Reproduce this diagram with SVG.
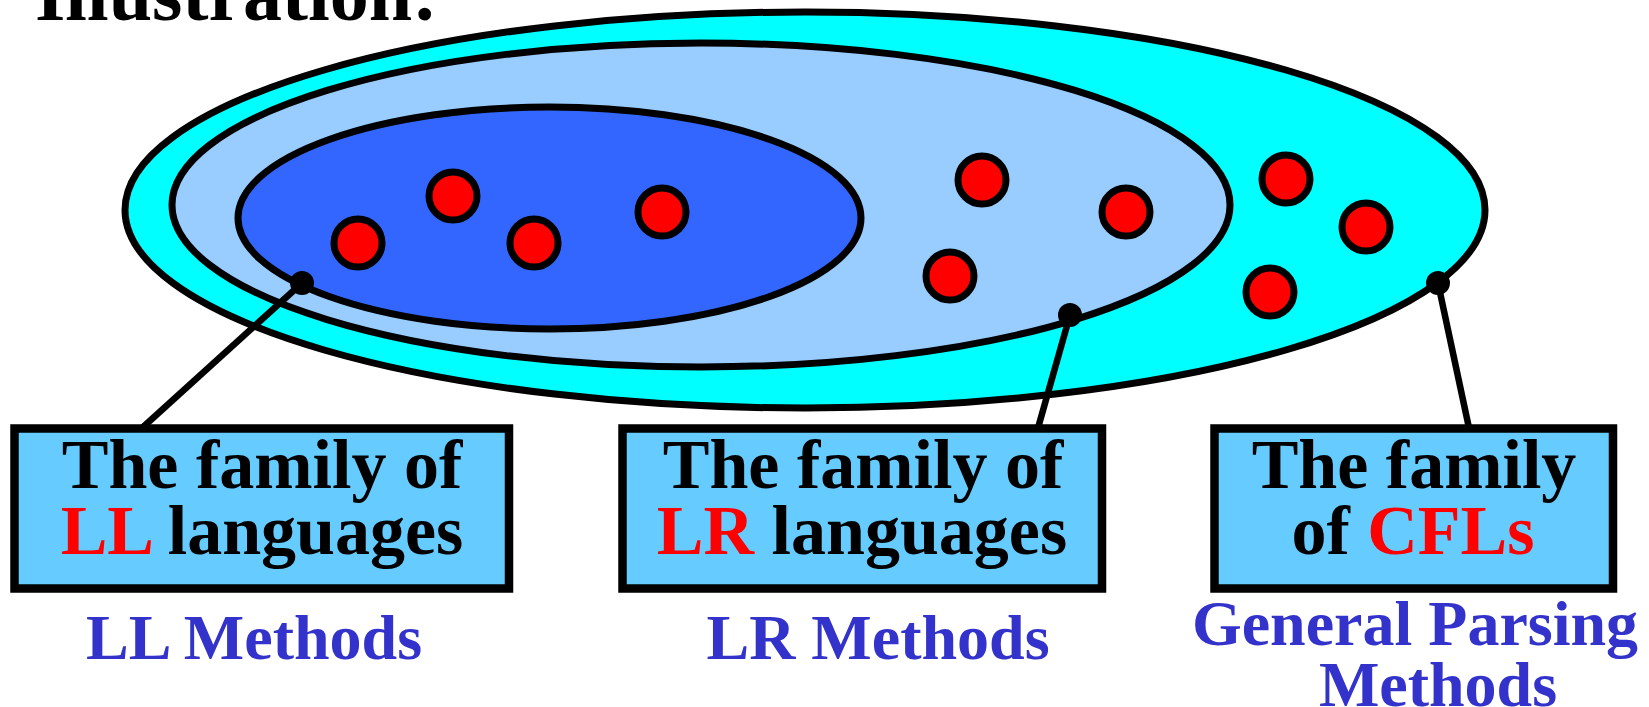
<svg xmlns="http://www.w3.org/2000/svg" width="1649" height="707" viewBox="0 0 1649 707">
<style>
.e{stroke:#000;stroke-width:7}
.dot{fill:#FF0000;stroke:#000;stroke-width:7}
.box{fill:#66CCFF;stroke:#000;stroke-width:8.5}
.t{font-family:"Liberation Serif","Times New Roman",serif;font-weight:bold;font-size:70px;fill:#000;text-anchor:middle}
.r{fill:#FF0000}
.m{font-family:"Liberation Serif","Times New Roman",serif;font-weight:bold;font-size:64px;fill:#3333CC;text-anchor:middle}
.c{stroke:#000;stroke-width:6.5;fill:none}
.cd{fill:#000}
</style>
<rect width="1649" height="707" fill="#fff"/>
<text x="35" y="20" style="font-family:'Liberation Serif','Times New Roman',serif;font-weight:bold;font-size:78px;fill:#000">Illustration:</text>
<g id="cfl-set">
<ellipse class="e" cx="805" cy="210" rx="680" ry="198" fill="#00FFFF"/>
</g>
<g id="lr-set">
<ellipse class="e" cx="701" cy="205" rx="529" ry="162" fill="#99CCFF"/>
</g>
<g id="ll-set">
<ellipse class="e" cx="549.5" cy="218" rx="311.5" ry="111" fill="#3366FF"/>
</g>
<g id="languages">
<circle class="dot" cx="358" cy="243" r="24"/>
<circle class="dot" cx="453" cy="196" r="24"/>
<circle class="dot" cx="534" cy="243" r="24"/>
<circle class="dot" cx="662" cy="212" r="24"/>
<circle class="dot" cx="982" cy="180" r="24"/>
<circle class="dot" cx="1126" cy="212" r="24"/>
<circle class="dot" cx="950" cy="276" r="24"/>
<circle class="dot" cx="1286" cy="179" r="24"/>
<circle class="dot" cx="1366" cy="227" r="24"/>
<circle class="dot" cx="1270" cy="292" r="24"/>
</g>
<g id="connectors">
<line class="c" x1="302" y1="283" x2="142" y2="428"/>
<line class="c" x1="1070" y1="315" x2="1038" y2="428"/>
<line class="c" x1="1438" y1="283" x2="1469" y2="428"/>
<circle class="cd" cx="302" cy="283" r="12"/>
<circle class="cd" cx="1070" cy="315" r="12"/>
<circle class="cd" cx="1438" cy="283" r="12"/>
</g>
<g id="box-ll">
<rect class="box" x="14.5" y="428.5" width="494.5" height="160"/>
<text class="t" x="262" y="488">The family of</text>
<text class="t" x="262" y="554"><tspan class="r">LL</tspan> languages</text>
<text class="m" x="254" y="659">LL Methods</text>
</g>
<g id="box-lr">
<rect class="box" x="622.5" y="428.5" width="479.5" height="160"/>
<text class="t" x="863" y="488">The family of</text>
<text class="t" x="862" y="554"><tspan class="r">LR</tspan> languages</text>
<text class="m" x="878" y="659">LR Methods</text>
</g>
<g id="box-cfl">
<rect class="box" x="1214.5" y="428.5" width="398.5" height="160"/>
<text class="t" x="1414" y="488">The family</text>
<text class="t" x="1413" y="554">of <tspan class="r">CFLs</tspan></text>
<text class="m" x="1415" y="645">General Parsing</text>
<text class="m" x="1438" y="706">Methods</text>
</g>
</svg>
